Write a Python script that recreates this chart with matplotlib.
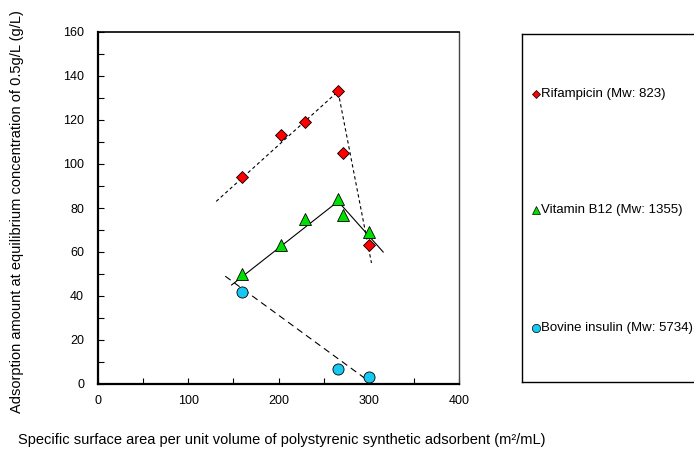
import matplotlib.pyplot as plt
from matplotlib.ticker import MultipleLocator

plt.rcParams['font.family'] = ['Liberation Sans', 'DejaVu Sans']

# measured points
rif_x = [160, 203, 229, 266, 272, 300]
rif_y = [94, 113, 119, 133, 105, 63]
b12_x = [160, 203, 229, 266, 272, 300]
b12_y = [50, 63, 75, 84, 77, 69]
ins_x = [160, 266, 300]
ins_y = [42, 7, 3]

# guide lines drawn in the original
rif_line_x = [131, 266, 303]
rif_line_y = [83, 133, 55]
b12_line_x = [148, 266, 316]
b12_line_y = [45, 83, 60]
ins_line_x = [141, 301]
ins_line_y = [49, 1]

labels = ['Rifampicin (Mw: 823)', 'Vitamin B12 (Mw: 1355)', 'Bovine insulin (Mw: 5734)']

fig = plt.figure(figsize=(6.94, 4.5), dpi=100)
ax = fig.add_axes([98/694, 1-384/450, 361/694, 352/450])

ax.plot(rif_line_x, rif_line_y, color='black', lw=0.8, dashes=(3, 2.5))
ax.plot(b12_line_x, b12_line_y, color='black', lw=0.8)
ax.plot(ins_line_x, ins_line_y, color='black', lw=0.8, dashes=(6, 4))

ax.plot(rif_x, rif_y, 'D', ms=6, mfc='#FF0000', mec='black', mew=0.6, ls='none', clip_on=False)
ax.plot(b12_x, b12_y, '^', ms=8, mfc='#00E000', mec='black', mew=0.6, ls='none', clip_on=False)
ax.plot(ins_x, ins_y, 'o', ms=8, mfc='#19C8F0', mec='black', mew=0.6, ls='none', clip_on=False)

ax.set_xlim(0, 400)
ax.set_ylim(0, 160)
ax.xaxis.set_major_locator(MultipleLocator(100))
ax.xaxis.set_minor_locator(MultipleLocator(50))
ax.yaxis.set_major_locator(MultipleLocator(20))
ax.yaxis.set_minor_locator(MultipleLocator(10))
ax.tick_params(which='both', direction='in', length=4, width=0.8, labelsize=9)
ax.tick_params(axis='y', pad=10)
ax.tick_params(axis='x', pad=8)
ax.tick_params(top=False, right=False, which='both')
ax.spines['left'].set_linewidth(1.6)
ax.spines['bottom'].set_linewidth(1.6)
ax.spines['top'].set_linewidth(1.2)
ax.spines['right'].set_linewidth(1.0)
ax.spines['right'].set_color('#444444')

fig.text(17/694, 1-212/450, 'Adsorption amount at equilibrium concentration of 0.5g/L (g/L)',
         fontsize=10.5, rotation=90, ha='center', va='center')
fig.text(18/694, 1-440/450, 'Specific surface area per unit volume of polystyrenic synthetic adsorbent (m²/mL)',
         fontsize=10.5, ha='left', va='center')

# legend box
lax = fig.add_axes([522/694, 1-382/450, 200/694, 348/450])
lax.set_xlim(0, 200)
lax.set_ylim(382, 34)
lax.set_xticks([])
lax.set_yticks([])
for s in lax.spines.values():
    s.set_linewidth(1.0)
entry_y = [94, 210, 328]
styles = [('D', 4.5, '#FF0000'), ('^', 6, '#00E000'), ('o', 6, '#19C8F0')]
for lab, yy, (m, ms, c) in zip(labels, entry_y, styles):
    lax.plot([14], [yy], m, ms=ms, mfc=c, mec='black', mew=0.5)
    lax.text(19, yy, lab, fontsize=9.5, va='center', ha='left')

fig.savefig('out.png', dpi=100)
